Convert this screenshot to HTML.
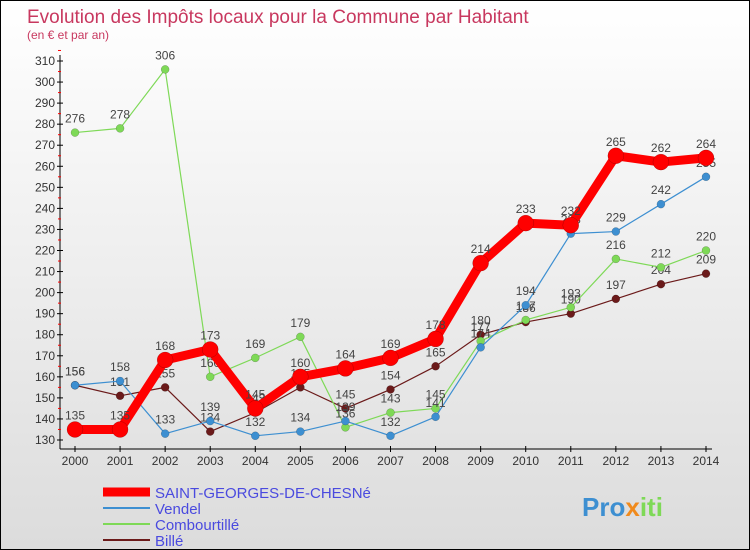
<!DOCTYPE html>
<html><head><meta charset="utf-8"><style>
body{margin:0;width:750px;height:550px;overflow:hidden;font-family:"Liberation Sans",sans-serif}
#c{position:absolute;left:0;top:0;width:748px;height:548px;border:1px solid #000;background:linear-gradient(#fff,#dcdcdc)}
</style></head><body>
<div id="c">
<svg id="s" width="750" height="550" style="position:absolute;left:-1px;top:-1px">
<text x="27" y="23" font-size="19" fill="#c8385f">Evolution des Impôts locaux pour la Commune par Habitant</text>
<text x="27" y="39" font-size="12" fill="#c8385f">(en € et par an)</text>
<g id="ax"></g><g id="ser"></g>
<g font-size="15" fill="#4a4adf">
<line x1="103" y1="492" x2="150" y2="492" stroke="#f00" stroke-width="9"/>
<text x="155" y="498">SAINT-GEORGES-DE-CHESNé</text>
<line x1="103" y1="508" x2="150" y2="508" stroke="#3d8fd1" stroke-width="2"/>
<text x="155" y="514">Vendel</text>
<line x1="103" y1="524" x2="150" y2="524" stroke="#7ed957" stroke-width="2"/>
<text x="155" y="530">Combourtillé</text>
<line x1="103" y1="540" x2="150" y2="540" stroke="#6b1a1a" stroke-width="2"/>
<text x="155" y="546">Billé</text>
</g>
<text x="582" y="516" font-size="26" font-weight="bold" fill="#3d8fd1">Pro<tspan fill="#f08a1c">x</tspan><tspan fill="#7ed957">iti</tspan></text>
</svg></div>
<script>
const years=[2000,2001,2002,2003,2004,2005,2006,2007,2008,2009,2010,2011,2012,2013,2014];
const yTicks=[130,140,150,160,170,180,190,200,210,220,230,240,250,260,270,280,290,300,310];
const stGeorges=[135,135,168,173,145,160,164,169,178,214,233,232,265,262,264];
const vendel=[156,158,133,139,132,134,139,132,141,174,194,228,229,242,255];
const combourtille=[276,278,306,160,169,179,136,143,145,177,187,193,216,212,220];
const bille=[156,151,155,134,143,155,145,154,165,180,186,190,197,204,209];
const X=i=>75+i*(706-75)/14;
const Y=v=>440-(v-130)*(440-61)/180;
const NS="http://www.w3.org/2000/svg";
function mk(t,a,p){const e=document.createElementNS(NS,t);for(const k in a)e.setAttribute(k,a[k]);p.appendChild(e);return e;}
const ax=document.getElementById('ax');
const yl=mk('line',{x1:60,y1:55,x2:60,y2:449,stroke:'#000'},ax);


const xl=mk('line',{x1:60,y1:449,x2:712,y2:449,stroke:'#000'},ax);


yTicks.forEach(v=>{
 mk('line',{x1:57,x2:63,y1:Y(v),y2:Y(v),stroke:'#000'},ax);
 mk('line',{x1:58,x2:61,y1:Y(v+5),y2:Y(v+5),stroke:'#f00'},ax);
 const t=mk('text',{x:55,y:Y(v)+4,'font-size':12,'text-anchor':'end',fill:'#333'},ax);t.textContent=v;
 
 
});
years.forEach((y,i)=>{
 mk('line',{x1:X(i),x2:X(i),y1:446,y2:452,stroke:'#000'},ax);
 const t=mk('text',{x:X(i),y:465,'font-size':12,'text-anchor':'middle',fill:'#333'},ax);t.textContent=y;
 
 
});
const ser=document.getElementById('ser');
function draw(vals,color,w,r,name){
 const g=mk('g',{},ser);
 
 
 mk('polyline',{points:vals.map((v,i)=>X(i)+','+Y(v)).join(' '),fill:'none',stroke:color,'stroke-width':w,'stroke-linejoin':'round'},g);
 vals.forEach((v,i)=>{
  const c=mk('circle',{cx:X(i),cy:Y(v),r:r,fill:color,stroke:'rgba(0,0,0,0.3)','stroke-width':0.5},g);
  
  
  const t=mk('text',{x:X(i),y:Y(v)-10,'font-size':12,'text-anchor':'middle',fill:'#444'},g);t.textContent=v;
 });
}
draw(bille,'#6b1a1a',1.2,4,'series-bille');
draw(combourtille,'#7ed957',1.2,4,'series-combourtille');
draw(vendel,'#3d8fd1',1.2,4,'series-vendel');
draw(stGeorges,'#f00',9,8,'series-saint-georges');
</script>
</body></html>
